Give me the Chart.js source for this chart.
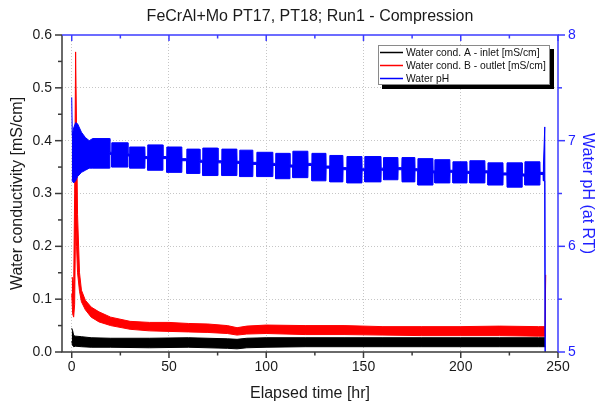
<!DOCTYPE html>
<html>
<head>
<meta charset="utf-8">
<title>FeCrAl+Mo PT17, PT18; Run1 - Compression</title>
<script src="https://cdn.jsdelivr.net/npm/chart.js@4.4.0/dist/chart.umd.min.js"></script>
<style>
  html, body { margin:0; padding:0; background:#fff; }
  canvas { display:block; }
</style>
</head>
<body>
<canvas id="grafico" width="595" height="407"></canvas>
<script>
/*
  Conductividad del agua (entrada / salida) y pH del agua frente al tiempo
  transcurrido. Las bandas con ruido se dibujan como envolvente superior e
  inferior, rellenando entre ambas.
*/

const tituloGrafico = "FeCrAl+Mo PT17, PT18; Run1 - Compression";
const ticksTiempo = [0, 50, 100, 150, 200, 250];
const ticksConductividad = [0, 0.1, 0.2, 0.3, 0.4, 0.5, 0.6];
const ticksPH = [5, 6, 7, 8];

// Water cond. A - inlet [mS/cm]
const tiempoA   = [0, 0.5, 1, 2, 5, 10, 20, 40, 60, 80, 85, 90, 100, 120, 140, 160, 180, 200, 220, 240, 243.5];
const condAalto = [0.045, 0.040, 0.031, 0.030, 0.029, 0.027, 0.026, 0.026, 0.027, 0.025, 0.024, 0.026, 0.027, 0.027, 0.027, 0.027, 0.027, 0.027, 0.027, 0.027, 0.027];
const condAbajo = [0.020, 0.012, 0.010, 0.011, 0.010, 0.009, 0.009, 0.008, 0.009, 0.007, 0.006, 0.008, 0.009, 0.010, 0.010, 0.010, 0.010, 0.010, 0.010, 0.010, 0.010];

// Water cond. B - outlet [mS/cm]
const tiempoB   = [0, 0.5, 1, 1.5, 2, 2.5, 3, 4, 5, 7, 10, 14, 20, 30, 40, 50, 60, 70, 80, 85, 90, 100, 120, 140, 160, 180, 200, 220, 240, 243.3, 243.7];
const condBalto = [0.142, 0.140, 0.120, 0.300, 0.568, 0.420, 0.260, 0.150, 0.117, 0.098, 0.085, 0.076, 0.066, 0.058, 0.056, 0.056, 0.054, 0.053, 0.050, 0.046, 0.049, 0.051, 0.050, 0.050, 0.048, 0.048, 0.048, 0.049, 0.048, 0.048, 0.146];
const condBbajo = [0.110, 0.072, 0.066, 0.090, 0.250, 0.200, 0.150, 0.115, 0.095, 0.080, 0.066, 0.057, 0.050, 0.043, 0.040, 0.039, 0.038, 0.037, 0.035, 0.032, 0.034, 0.035, 0.033, 0.033, 0.032, 0.031, 0.031, 0.031, 0.030, 0.030, 0.030];

// Water pH: arranque, bloques de oscilacion y final
const tiempoPHini = [0, 0.3, 1, 2, 3, 5, 7, 9];
const phIniAlto   = [7.41, 7.05, 7.12, 7.17, 7.16, 7.08, 7.03, 7.00];
const phIniBajo   = [6.62, 6.62, 6.60, 6.62, 6.66, 6.70, 6.72, 6.74];

const bloqueInicio = [10.8, 20.6, 29.8, 39.1, 48.9, 59.2, 67.4, 77.2, 86.4, 95.2, 104.9, 113.7, 123.5, 132.7, 141.5, 150.7, 160.3, 169.8, 178.0, 186.7, 196.0, 204.7, 214.0, 223.8, 233.0];
const bloqueFin    = [19.5, 28.8, 37.6, 46.8, 56.6, 65.8, 75.1, 84.9, 93.1, 103.4, 112.1, 121.4, 130.7, 139.4, 149.2, 159.0, 167.7, 176.4, 185.7, 194.4, 203.2, 212.4, 221.7, 231.5, 240.7];
const bloqueAlto   = [7.02, 6.98, 6.94, 6.96, 6.94, 6.92, 6.93, 6.92, 6.91, 6.89, 6.88, 6.90, 6.88, 6.86, 6.85, 6.85, 6.84, 6.84, 6.83, 6.82, 6.80, 6.81, 6.79, 6.79, 6.80];
const bloqueBajo   = [6.74, 6.75, 6.74, 6.72, 6.70, 6.69, 6.67, 6.67, 6.66, 6.66, 6.64, 6.65, 6.62, 6.61, 6.60, 6.61, 6.63, 6.61, 6.58, 6.60, 6.60, 6.60, 6.58, 6.56, 6.58];

const tiempoPHfin = [242.5, 243.2, 243.4];
const phFinAlto   = [6.76, 7.13, 5.0];
const phFinBajo   = [6.62, 6.62, 5.0];

const negro = "#000000";
const rojo = "#ff0000";
const azul = "#0000ff";
const azulEje = "#3c3cff";
const grisEje = "#3a3a3a";
const fuente = "'Liberation Sans', Arial, sans-serif";

Chart.defaults.font.family = fuente;

function puntos(ts, ys){
  return ts.map((t,i)=>({ x:t, y:ys[i] }));
}

// envolvente del pH
const tiempoPH = [], phAlto = [], phBajo = [];
function agregarPH(t, alto, bajo){ tiempoPH.push(t); phAlto.push(alto); phBajo.push(bajo); }
tiempoPHini.forEach((t,i)=> agregarPH(t, phIniAlto[i], phIniBajo[i]));
bloqueInicio.forEach((t0,i)=>{
  agregarPH(t0, bloqueAlto[i], bloqueBajo[i]);
  agregarPH(bloqueFin[i], bloqueAlto[i], bloqueBajo[i]);
  // hueco estrecho entre bloques (solo una linea fina en el centro)
  const centro = (bloqueAlto[i] + bloqueBajo[i]) / 2;
  const tSig = i + 1 < bloqueInicio.length ? bloqueInicio[i+1] : tiempoPHfin[0];
  agregarPH(bloqueFin[i] + 0.1, centro + 0.01, centro - 0.01);
  agregarPH(tSig - 0.1, centro + 0.01, centro - 0.01);
});
tiempoPHfin.forEach((t,i)=> agregarPH(t, phFinAlto[i], phFinBajo[i]));

function banda(nombre, color, ts, alto, bajo, eje, orden){
  const base = {
    borderColor: color, backgroundColor: color, borderWidth: 1,
    pointRadius: 0, tension: 0, yAxisID: eje, order: orden
  };
  return [
    Object.assign({}, base, { label: nombre, enLeyenda: true, data: puntos(ts, alto), fill: false }),
    Object.assign({}, base, { label: nombre + " (min)", data: puntos(ts, bajo), fill: "-1" })
  ];
}

const datasets = [
  ...banda("Water cond. A - inlet [mS/cm]", negro, tiempoA, condAalto, condAbajo, "y", 3),
  ...banda("Water cond. B - outlet [mS/cm]", rojo, tiempoB, condBalto, condBbajo, "y", 2),
  ...banda("Water pH", azul, tiempoPH, phAlto, phBajo, "y2", 1)
];

const fondoBlanco = {
  id: "fondoBlanco",
  beforeDraw(chart){
    const c = chart.ctx;
    c.save(); c.fillStyle = "#fff"; c.fillRect(0, 0, chart.width, chart.height); c.restore();
  }
};

// marco, marcas mayores y menores, titulo y leyenda
const marcoYLeyenda = {
  id: "marcoYLeyenda",
  afterDraw(chart){
    const c = chart.ctx;
    const a = chart.chartArea;
    const sx = chart.scales.x, sy = chart.scales.y, sy2 = chart.scales.y2;
    c.save();
    c.lineWidth = 1.5;

    // eje inferior y superior
    for (let i = 0; i <= 10; i++){
      const v = i * 25;
      const px = sx.getPixelForValue(v);
      const mayor = i % 2 === 0;
      c.strokeStyle = grisEje;
      c.beginPath(); c.moveTo(px, a.bottom); c.lineTo(px, a.bottom + (mayor ? 6 : 3.5)); c.stroke();
      c.strokeStyle = azulEje;
      c.beginPath(); c.moveTo(px, a.top); c.lineTo(px, a.top + (mayor ? 6 : 3.5)); c.stroke();
    }
    // eje izquierdo
    c.strokeStyle = grisEje;
    for (let i = 0; i <= 12; i++){
      const py = sy.getPixelForValue(i * 0.05);
      c.beginPath(); c.moveTo(a.left, py); c.lineTo(a.left - (i % 2 === 0 ? 7 : 4), py); c.stroke();
    }
    // eje derecho
    c.strokeStyle = azulEje;
    for (let i = 0; i <= 6; i++){
      const py = sy2.getPixelForValue(5 + i * 0.5);
      c.beginPath(); c.moveTo(a.right, py); c.lineTo(a.right + (i % 2 === 0 ? 7 : 4), py); c.stroke();
    }

    // marco
    c.strokeStyle = grisEje;
    c.beginPath(); c.moveTo(a.left, a.top); c.lineTo(a.left, a.bottom); c.lineTo(a.right, a.bottom); c.stroke();
    c.strokeStyle = azulEje;
    c.beginPath(); c.moveTo(a.left, a.top); c.lineTo(a.right, a.top); c.lineTo(a.right, a.bottom); c.stroke();

    // titulo
    c.fillStyle = "#1a1a1a";
    c.font = "16px " + fuente;
    c.textAlign = "center"; c.textBaseline = "middle";
    c.fillText(tituloGrafico, (a.left + a.right) / 2, 17);

    // leyenda con sombra
    const lx = 378, ly = 45, lw = 172, lh = 40;
    c.fillStyle = "#000"; c.fillRect(lx + 4, ly + 4, lw, lh);
    c.fillStyle = "#fff"; c.fillRect(lx, ly, lw, lh);
    c.strokeStyle = "#8a8a8a"; c.lineWidth = 1; c.strokeRect(lx + 0.5, ly + 0.5, lw - 1, lh - 1);
    c.font = "10.3px " + fuente;
    c.textAlign = "left";
    chart.data.datasets.filter(d => d.enLeyenda).forEach((d, i) => {
      const y = ly + 7.5 + i * 13;
      c.strokeStyle = d.borderColor; c.lineWidth = 1.5;
      c.beginPath(); c.moveTo(lx + 2, y); c.lineTo(lx + 25, y); c.stroke();
      c.fillStyle = "#111";
      c.fillText(d.label, lx + 28, y + 0.5);
    });
    c.restore();
  }
};

const grafico = new Chart(document.getElementById("grafico"), {
  type: "line",
  data: { datasets: datasets },
  plugins: [fondoBlanco, marcoYLeyenda],
  options: {
    responsive: false,
    animation: false,
    layout: { padding: { top: 35, left: 0, right: 0, bottom: 0 } },
    plugins: {
      legend: { display: false },
      title: { display: false },
      tooltip: { enabled: false }
    },
    scales: {
      x: {
        type: "linear", position: "bottom", min: -5, max: 250,
        afterBuildTicks: s => { s.ticks = ticksTiempo.map(v => ({ value: v })); },
        afterFit: s => { s.height = 55; },
        grid: {
          drawTicks: false, lineWidth: 1,
          color: ctx => (ctx.tick && ctx.tick.value < 250) ? "#c6c6c6" : "rgba(0,0,0,0)"
        },
        border: { display: false, dash: [1, 2] },
        ticks: { color: "#1a1a1a", font: { size: 14 }, padding: 7, maxRotation: 0, autoSkip: false },
        title: { display: true, text: "Elapsed time [hr]", color: "#1a1a1a", font: { size: 16 }, padding: { top: 0, bottom: 4 } }
      },
      y: {
        type: "linear", position: "left", min: 0, max: 0.6,
        afterBuildTicks: s => { s.ticks = ticksConductividad.map(v => ({ value: v })); },
        afterFit: s => { s.width = 62; },
        grid: {
          drawTicks: false, lineWidth: 1,
          color: ctx => (ctx.tick && ctx.tick.value > 0.01 && ctx.tick.value < 0.59) ? "#c6c6c6" : "rgba(0,0,0,0)"
        },
        border: { display: false, dash: [1, 2] },
        ticks: { color: "#1a1a1a", font: { size: 14 }, padding: 10, callback: v => Number(v).toFixed(1) },
        title: { display: true, text: "Water conductivity [mS/cm]", color: "#1a1a1a", font: { size: 16 }, padding: { top: 8, bottom: 0 } }
      },
      y2: {
        type: "linear", position: "right", min: 5, max: 8,
        afterBuildTicks: s => { s.ticks = ticksPH.map(v => ({ value: v })); },
        afterFit: s => { s.width = 37; },
        grid: { display: false, drawTicks: false },
        border: { display: false },
        ticks: { color: "#1f1fff", font: { size: 14 }, padding: 10 },
        title: { display: true, text: "Water pH (at RT)", color: "#1f1fff", font: { size: 16 }, padding: { top: -2, bottom: 0 } }
      }
    }
  }
});
</script>
</body>
</html>
